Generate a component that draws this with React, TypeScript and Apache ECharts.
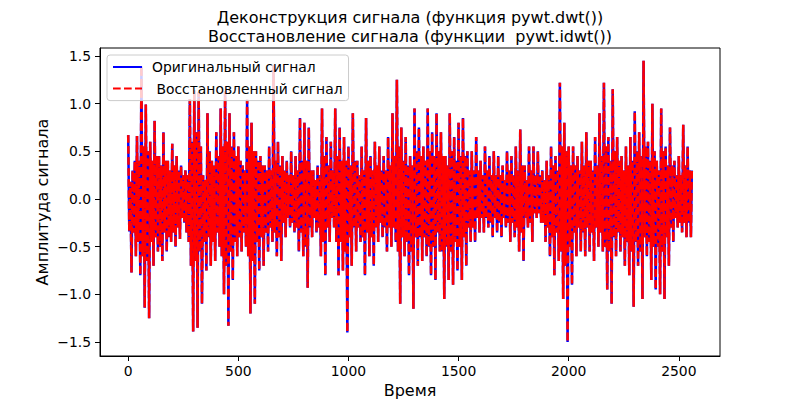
import React, { useEffect, useRef } from "react";
import * as echarts from "echarts";

// Signal samples, one value every 5 samples (index 0 .. 2555), plus the last sample (2559)
const sampleStep = 5;
const signalPart1 = [
  0.67, -0.34, 0.18, -0.77, 0.30, -0.35, 0.40, -0.60, 0.66, -0.45, 0.40, -0.80, 1.39, -0.60, 0.55, -1.14,
  0.99, -0.65, 0.50, -1.25, 0.60, -0.45, 0.40, -0.70, 0.82, -0.40, 0.45, -0.55, 0.45, -0.50, 0.35, -0.65,
  0.70, -0.35, 0.40, -0.55, 0.40, -0.40, 0.30, -0.45, 0.58, -0.35, 0.35, -0.50, 0.45, -0.30, 0.30, -0.42,
  0.35, -0.20, 0.25, -0.25, 0.30, -0.35, 0.25, -0.45, 1.05, -0.70, 0.60, -1.39, 1.14, -0.65, 0.70, -1.35,
  1.12, -0.55, 0.55, -1.10, 0.25, -0.45, 0.20, -0.75, 0.90, -0.40, 0.50, -0.70, 0.40, -0.45, 0.35, -0.65,
  0.70, -0.35, 0.45, -0.50, 0.95, -0.60, 0.55, -1.00, 1.13, -0.70, 0.60, -1.33, 0.90, -0.55, 0.55, -0.85,
  0.70, -0.45, 0.45, -0.60, 0.55, -0.40, 0.40, -0.55, 0.35, -0.35, 0.30, -0.50, 1.04, -0.60, 0.55, -1.20,
  0.80, -0.65, 0.50, -1.10, 0.50, -0.45, 0.40, -0.75, 0.45, -0.40, 0.35, -0.70, 0.35, -0.35, 0.30, -0.55,
];
const signalPart2 = [
  0.55, -0.30, 0.30, -0.45, 1.40, -0.35, 0.40, -0.60, 0.60, -0.40, 0.35, -0.65, 0.45, -0.25, 0.30, -0.40,
  0.40, -0.20, 0.25, -0.30, 0.50, -0.25, 0.25, -0.35, 0.45, -0.30, 0.30, -0.55, 0.85, -0.35, 0.40, -0.60,
  0.80, -0.50, 0.40, -0.93, 0.75, -0.30, 0.30, -0.40, 0.30, -0.20, 0.20, -0.35, 0.35, -0.30, 0.25, -0.60,
  0.95, -0.45, 0.45, -0.80, 0.65, -0.30, 0.35, -0.45, 0.60, -0.20, 0.30, -0.30, 0.95, -0.45, 0.45, -0.80,
  0.75, -0.45, 0.40, -0.75, 0.65, -0.55, 0.40, -1.40, 0.55, -0.40, 0.35, -0.70, 0.90, -0.30, 0.40, -0.55,
  0.40, -0.30, 0.25, -0.45, 0.55, -0.40, 0.30, -0.80, 0.85, -0.35, 0.40, -0.60, 0.45, -0.40, 0.30, -0.70,
  0.60, -0.30, 0.35, -0.45, 0.55, -0.25, 0.30, -0.40, 0.45, -0.30, 0.30, -0.55, 0.65, -0.30, 0.35, -0.50,
  0.90, -0.30, 0.45, -0.45, 1.25, -0.55, 0.55, -1.10, 0.75, -0.40, 0.40, -0.60, 0.65, -0.45, 0.35, -0.80,
];
const signalPart3 = [
  0.45, -0.55, 0.35, -1.15, 0.95, -0.40, 0.50, -0.70, 0.75, -0.40, 0.45, -0.65, 0.55, -0.40, 0.40, -0.60,
  0.95, -0.50, 0.50, -0.80, 0.70, -0.50, 0.45, -0.85, 0.90, -0.35, 0.50, -0.55, 0.70, -0.55, 0.45, -1.05,
  0.45, -0.50, 0.35, -0.85, 0.90, -0.55, 0.50, -0.90, 0.65, -0.45, 0.40, -0.75, 0.80, -0.50, 0.45, -0.85,
  0.85, -0.40, 0.45, -0.70, 0.50, -0.30, 0.30, -0.45, 0.50, -0.30, 0.30, -0.45, 0.65, -0.20, 0.30, -0.35,
  0.40, -0.20, 0.25, -0.35, 0.55, -0.20, 0.30, -0.30, 0.45, -0.25, 0.25, -0.40, 0.50, -0.20, 0.25, -0.35,
  0.45, -0.25, 0.25, -0.40, 0.35, -0.20, 0.20, -0.30, 0.50, -0.25, 0.30, -0.45, 0.45, -0.25, 0.25, -0.40,
  0.55, -0.30, 0.30, -0.55, 0.73, -0.35, 0.35, -0.65, 0.35, -0.20, 0.20, -0.30, 0.55, -0.25, 0.30, -0.45,
  0.55, -0.15, 0.25, -0.20, 0.50, -0.15, 0.25, -0.25, 0.30, -0.25, 0.20, -0.45, 0.40, -0.30, 0.25, -0.60,
];
const signalPart4 = [
  0.55, -0.40, 0.35, -0.80, 0.45, -0.35, 0.30, -0.65, 1.22, -0.55, 0.55, -1.05, 0.80, -0.70, 0.50, -1.50,
  0.55, -0.50, 0.35, -0.90, 0.55, -0.35, 0.35, -0.60, 0.45, -0.30, 0.30, -0.55, 0.60, -0.35, 0.35, -0.60,
  0.70, -0.30, 0.40, -0.55, 0.40, -0.35, 0.30, -0.65, 0.65, -0.30, 0.35, -0.50, 0.90, -0.35, 0.45, -0.55,
  1.22, -0.50, 0.55, -0.95, 0.65, -0.55, 0.40, -1.10, 1.15, -0.40, 0.50, -0.60, 0.65, -0.35, 0.40, -0.55,
  0.45, -0.40, 0.30, -0.70, 0.55, -0.45, 0.35, -0.80, 0.65, -0.55, 0.40, -1.13, 0.92, -0.45, 0.50, -0.70,
  0.70, -0.55, 0.45, -1.05, 1.45, -0.40, 0.55, -0.60, 0.60, -0.45, 0.40, -0.85, 1.00, -0.50, 0.50, -0.95,
  0.40, -0.50, 0.30, -1.00, 0.95, -0.55, 0.50, -1.05, 0.55, -0.40, 0.35, -0.70, 0.75, -0.30, 0.35, -0.45,
  0.40, -0.20, 0.25, -0.30, 0.45, -0.25, 0.25, -0.35, 0.78, -0.25, 0.35, -0.40, 0.55, -0.25, 0.30, -0.40,
];
const lastIndex = 2559;
const lastValue = 0.3;

const xTicks = [0, 500, 1000, 1500, 2000, 2500];
const yTicks = [-1.5, -1.0, -0.5, 0.0, 0.5, 1.0, 1.5];

const titleLines = ["Деконструкция сигнала (функция pywt.dwt())", "Восстановление сигнала (функции  pywt.idwt())"];
const xLabel = "Время";
const yLabel = "Амплитуда сигнала";
const nameOriginal = "Оригинальный сигнал";
const nameRestored = " Восстановленный сигнал";

const FONT = "DejaVu Sans";

export default function App() {
  const ref = useRef<HTMLDivElement>(null);
  useEffect(() => {
    if (!ref.current) return;
    const chart = echarts.init(ref.current, undefined, { renderer: "svg" });
    const values = [...signalPart1, ...signalPart2, ...signalPart3, ...signalPart4];
    const data: [number, number][] = values.map((v, i) => [i * sampleStep, v]);
    data.push([lastIndex, lastValue]);

    const fmtY = (v: number) => (v < 0 ? "\u2212" : "") + Math.abs(v).toFixed(1);

    chart.setOption({
      animation: false,
      backgroundColor: "#ffffff",
      grid: {
        left: 100,
        top: 48,
        width: 620,
        height: 308,
        show: true,
        borderColor: "#000000",
        borderWidth: 1,
        backgroundColor: "transparent",
      },
      xAxis: {
        type: "value",
        min: -128,
        max: 2687,
        axisLine: { show: true, onZero: false, lineStyle: { color: "#000", width: 1 } },
        axisTick: { show: true, inside: false, length: 5, customValues: xTicks, lineStyle: { color: "#000" } },
        axisLabel: {
          customValues: xTicks,
          formatter: (v: number) => String(v),
          color: "#000",
          fontSize: 13.9,
          fontFamily: FONT,
          margin: 8,
        },
        splitLine: { show: false },
      },
      yAxis: {
        type: "value",
        min: -1.647,
        max: 1.584,
        axisLine: { show: true, onZero: false, lineStyle: { color: "#000", width: 1 } },
        axisTick: { show: true, inside: false, length: 5, customValues: yTicks, lineStyle: { color: "#000" } },
        axisLabel: {
          customValues: yTicks,
          formatter: fmtY,
          color: "#000",
          fontSize: 13.9,
          fontFamily: FONT,
          margin: 9,
        },
        splitLine: { show: false },
      },
      legend: {
        orient: "vertical",
        left: 107,
        top: 55,
        padding: [5, 6, 5, 5],
        itemWidth: 29,
        itemHeight: 14,
        itemGap: 7.6,
        backgroundColor: "rgba(255,255,255,0.8)",
        borderColor: "#cccccc",
        borderWidth: 1,
        borderRadius: 3,
        itemStyle: { opacity: 0 },
        lineStyle: { width: 2 },
        textStyle: { color: "#000", fontSize: 13.9, fontFamily: FONT, padding: [0, 0, 0, 5] },
        data: [nameOriginal, nameRestored],
      },
      graphic: [
        {
          type: "text",
          x: 410,
          y: 26.6,
          style: {
            text: titleLines.join("\n"),
            fontSize: 16,
            lineHeight: 19,
            fontFamily: FONT,
            fill: "#000",
            align: "center",
            verticalAlign: "middle",
          },
        },
        {
          type: "text",
          x: 410,
          y: 390,
          style: { text: xLabel, fontSize: 16, fontFamily: FONT, fill: "#000", align: "center", verticalAlign: "middle" },
        },
        {
          type: "text",
          x: 42,
          y: 202,
          rotation: Math.PI / 2,
          style: { text: yLabel, fontSize: 16, fontFamily: FONT, fill: "#000", align: "center", verticalAlign: "middle" },
        },
      ],
      series: [
        {
          name: nameOriginal,
          type: "line",
          data,
          symbol: "none",
          lineStyle: { color: "#0000ff", width: 2.5 },
          itemStyle: { color: "#0000ff" },
          z: 2,
        },
        {
          name: nameRestored,
          type: "line",
          data,
          symbol: "none",
          lineStyle: { color: "#ff0000", width: 2.5, type: [7.7, 3.3] },
          itemStyle: { color: "#ff0000" },
          z: 3,
        },
      ],
    });
    return () => chart.dispose();
  }, []);
  return <div ref={ref} style={{ position: "fixed", left: 0, top: 0, width: 800, height: 400 }} />;
}
